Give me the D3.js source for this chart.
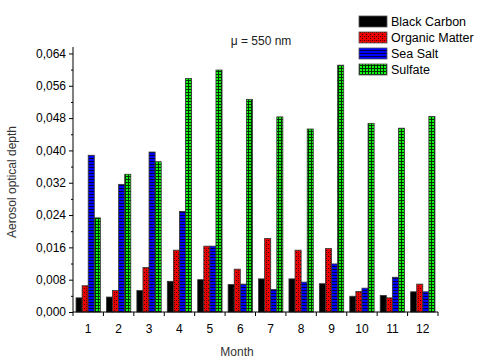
<!DOCTYPE html>
<html><head><meta charset="utf-8">
<script src="https://cdn.jsdelivr.net/npm/d3@7"></script>
<style>body{margin:0;background:#fff}text{font-family:Arial,"Liberation Sans",sans-serif}</style>
</head><body><svg id="c" width="480" height="361"></svg>
<script>
const months = ["1","2","3","4","5","6","7","8","9","10","11","12"];
const seriesNames = ["Black Carbon","Organic Matter","Sea Salt","Sulfate"];
const blackCarbon   = [0.0035,0.0037,0.0053,0.0076,0.0080,0.0068,0.0082,0.0082,0.0070,0.0039,0.0041,0.0050];
const organicMatter = [0.0065,0.0053,0.0110,0.0153,0.0163,0.0106,0.0182,0.0153,0.0157,0.0051,0.0035,0.0069];
const seaSalt       = [0.0388,0.0316,0.0396,0.0249,0.0163,0.0069,0.0056,0.0074,0.0119,0.0059,0.0086,0.0050];
const sulfate       = [0.0233,0.0341,0.0372,0.0578,0.0599,0.0526,0.0483,0.0453,0.0611,0.0467,0.0455,0.0484];
const yTicks = [0,0.008,0.016,0.024,0.032,0.040,0.048,0.056,0.064];
const allSeries = [blackCarbon, organicMatter, seaSalt, sulfate];

const svg = d3.select("#c");
const defs = svg.append("defs");
// patterns
const pr = defs.append("pattern").attr("id","pRed").attr("width",4).attr("height",4).attr("patternUnits","userSpaceOnUse");
pr.append("rect").attr("width",4).attr("height",4).attr("fill","#ee0000");
pr.append("rect").attr("width",1).attr("height",1).attr("fill","#400000");
pr.append("rect").attr("x",2).attr("y",2).attr("width",1).attr("height",1).attr("fill","#400000");
pr.append("rect").attr("x",2).attr("y",0).attr("width",1).attr("height",1).attr("fill","#800000");
const pb = defs.append("pattern").attr("id","pBlue").attr("width",3).attr("height",3).attr("patternUnits","userSpaceOnUse");
pb.append("rect").attr("width",3).attr("height",3).attr("fill","#0000ff");
pb.append("rect").attr("y",2).attr("width",3).attr("height",1).attr("fill","#000040");
const pg = defs.append("pattern").attr("id","pGreen").attr("width",3).attr("height",3).attr("patternUnits","userSpaceOnUse");
pg.append("rect").attr("width",3).attr("height",3).attr("fill","#10ff10");
pg.append("rect").attr("y",2).attr("width",3).attr("height",1).attr("fill","#003000");
pg.append("rect").attr("x",2).attr("width",1).attr("height",3).attr("fill","#003000");
const fills = ["#000000","url(#pRed)","url(#pBlue)","url(#pGreen)"];

const L = 73, R = 438, T = 47, B = 312;
const x = d3.scaleBand().domain(months).range([L,R]).paddingInner(0.2).paddingOuter(0.1);
const xb = d3.scaleBand().domain(months).range([L,R]);
const xs = d3.scaleBand().domain(d3.range(4)).range([0,x.bandwidth()]);
const y = d3.scaleLinear().domain([0,0.0656]).range([B,T]);

// bars
months.forEach((m,i)=>{
  allSeries.forEach((s,j)=>{
    svg.append("rect")
      .attr("x", x(m)+xs(j)).attr("y", y(s[i]))
      .attr("width", xs.bandwidth()).attr("height", B - y(s[i]))
      .attr("fill", fills[j]).attr("stroke","#333").attr("stroke-width",0.8);
  });
});

// y axis
const yAxis = d3.axisLeft(y).tickValues(yTicks).tickSize(4).tickFormat(d=>d3.format(".3f")(d).replace(".",","));
const ga = svg.append("g").attr("transform",`translate(${L},0)`).call(yAxis);
ga.select(".domain").attr("d",`M0,${B}V${T}`);
ga.selectAll("text").attr("font-size",12).attr("fill","#000");
svg.append("g").attr("transform",`translate(${L},0)`)
  .call(d3.axisLeft(y).tickValues(yTicks.slice(0,-1).map(v=>v+0.004)).tickSize(2).tickFormat(""))
  .select(".domain").remove();

// x axis
const gx = svg.append("g").attr("transform",`translate(0,${B})`);
gx.append("line").attr("x1",L).attr("x2",R).attr("stroke","#000");
const bounds = months.map(m=>xb(m)).concat([R]);
gx.selectAll("line.t").data(bounds).enter().append("line")
  .attr("x1",d=>d).attr("x2",d=>d).attr("y1",0).attr("y2",4).attr("stroke","#000");
gx.selectAll("text").data(months).enter().append("text")
  .attr("x",d=>xb(d)+xb.bandwidth()/2).attr("y",21).attr("text-anchor","middle")
  .attr("font-size",12).text(d=>d);

// axis titles
svg.append("text").attr("x",237).attr("y",356).attr("text-anchor","middle").attr("font-size",12).attr("fill","#333").text("Month");
svg.append("text").attr("transform","translate(16,182) rotate(-90)").attr("text-anchor","middle").attr("font-size",12).attr("fill","#333").text("Aerosol optical depth");
svg.append("text").attr("x",261).attr("y",45).attr("text-anchor","middle").attr("font-size",12).attr("fill","#222").text("\u03bc = 550 nm");

// legend
seriesNames.forEach((n,j)=>{
  const ly = 16 + j*16;
  svg.append("rect").attr("x",359).attr("y",ly).attr("width",28).attr("height",11)
    .attr("fill",fills[j]).attr("stroke","#555").attr("stroke-width",0.8);
  svg.append("text").attr("x",391).attr("y",ly+10).attr("font-size",12.5).attr("fill","#000").text(n);
});
</script></body></html>
